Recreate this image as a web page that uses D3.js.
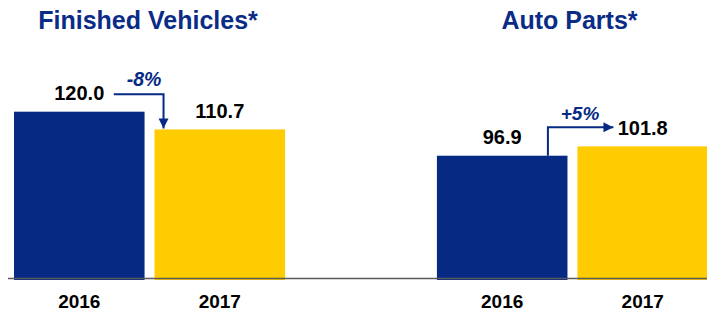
<!DOCTYPE html>
<html>
<head>
<meta charset="utf-8">
<script src="https://cdn.jsdelivr.net/npm/d3@7"></script>
<style>
html,body{margin:0;padding:0;background:#fff;}
svg{display:block;font-family:"Liberation Sans",Arial,sans-serif;}
</style>
</head>
<body>
<svg id="chart" width="707" height="313"></svg>
<script>
const groups = ["Finished Vehicles*", "Auto Parts*"];
const years = ["2016", "2017"];
const values2016 = [120.0, 96.9];
const values2017 = [110.7, 101.8];
const changes = ["-8%", "+5%"];

const colors = {"2016": "#062A84", "2017": "#FECC00"};
const navy = "#062A84";
const FONT = "'Liberation Sans', Arial, sans-serif";

const svg = d3.select("#chart");
const W = 707, H = 313;

const x0 = d3.scaleBand().domain(groups).range([14, 708]).paddingInner(0.359).paddingOuter(0);
const x1 = d3.scaleBand().domain(years).range([0, x0.bandwidth()]).paddingInner(0.071).paddingOuter(0);
const y = d3.scaleLinear().domain([31.65, 120]).range([280, 111.7]);

const data = groups.map((g, i) => ({
  group: g,
  change: changes[i],
  vals: [{year: "2016", v: values2016[i]}, {year: "2017", v: values2017[i]}]
}));

// Titles
svg.selectAll("text.title").data(groups).enter().append("text")
  .attr("class", "title")
  .attr("x", (d, i) => i === 0 ? 148 : 569.5)
  .attr("y", 29)
  .attr("text-anchor", "middle")
  .attr("font-family", FONT)
  .attr("font-size", 25)
  .attr("font-weight", "bold")
  .attr("fill", "#0B2C86")
  .text(d => d);

const gSel = svg.selectAll("g.grp").data(data).enter().append("g")
  .attr("class", "grp")
  .attr("transform", d => `translate(${x0(d.group)},0)`);

gSel.selectAll("rect").data(d => d.vals).enter().append("rect")
  .attr("x", d => x1(d.year))
  .attr("y", d => y(d.v))
  .attr("width", x1.bandwidth())
  .attr("height", d => y.range()[0] - y(d.v))
  .attr("fill", d => colors[d.year]);

gSel.selectAll("text.val").data(d => d.vals).enter().append("text")
  .attr("class", "val")
  .attr("x", d => x1(d.year) + x1.bandwidth() / 2)
  .attr("y", d => y(d.v) - 11.5)
  .attr("text-anchor", "middle")
  .attr("font-family", FONT)
  .attr("font-size", 20)
  .attr("font-weight", "bold")
  .attr("fill", "#000")
  .text(d => d.v.toFixed(1));

// Axis baseline
svg.append("line")
  .attr("x1", 8).attr("x2", W)
  .attr("y1", 278.5).attr("y2", 278.5)
  .attr("stroke", "#5a5a5a").attr("stroke-width", 1.5);

// Year labels
const xAxis = d3.axisBottom(x1).tickSize(0).tickPadding(0);
gSel.append("g")
  .attr("transform", "translate(0,294)")
  .call(xAxis)
  .call(g => g.select(".domain").remove())
  .call(g => g.selectAll("text")
    .attr("font-size", 19)
    .attr("font-weight", "bold")
    .attr("fill", "#000")
    .attr("font-family", FONT));

// Arrow marker
const defs = svg.append("defs");
defs.append("marker")
  .attr("id", "arr")
  .attr("viewBox", "0 0 10 10")
  .attr("refX", 10).attr("refY", 5)
  .attr("markerWidth", 5).attr("markerHeight", 5.5)
  .attr("markerUnits", "strokeWidth")
  .attr("orient", "auto")
  .append("path").attr("d", "M0,0 L10,5 L0,10 Z").attr("fill", navy);

// Arrow 1: Finished Vehicles (decline)
(function () {
  const d = data[0];
  const gx = x0(d.group);
  const b0 = gx + x1("2016"), b1 = gx + x1("2017");
  const yA = y(d.vals[0].v) - 17.5;
  const xs = b0 + x1.bandwidth() / 2 + 34.5;
  const xc = b1 + 9;
  const yEnd = y(d.vals[1].v) - 1;
  svg.append("path")
    .attr("d", `M${xs},${yA} H${xc} V${yEnd}`)
    .attr("fill", "none").attr("stroke", navy).attr("stroke-width", 2)
    .attr("marker-end", "url(#arr)");
  svg.append("text")
    .attr("x", 144).attr("y", yA - 8.5)
    .attr("text-anchor", "middle")
    .attr("font-family", FONT)
    .attr("font-size", 19.5).attr("font-weight", "bold").attr("font-style", "italic")
    .attr("fill", navy).text(d.change);
})();

// Arrow 2: Auto Parts (increase)
(function () {
  const d = data[1];
  const gx = x0(d.group);
  const b0 = gx + x1("2016"), b1 = gx + x1("2017");
  const xs = b0 + 111;
  const yS = y(d.vals[0].v);
  const yA = y(d.vals[1].v) - 19;
  const xe = b1 + 36;
  svg.append("path")
    .attr("d", `M${xs},${yS} V${yA} H${xe}`)
    .attr("fill", "none").attr("stroke", navy).attr("stroke-width", 2)
    .attr("marker-end", "url(#arr)");
  svg.append("text")
    .attr("x", 580).attr("y", yA - 7.5)
    .attr("text-anchor", "middle")
    .attr("font-family", FONT)
    .attr("font-size", 19).attr("font-weight", "bold").attr("font-style", "italic")
    .attr("fill", navy).text(d.change);
})();
</script>
</body>
</html>
